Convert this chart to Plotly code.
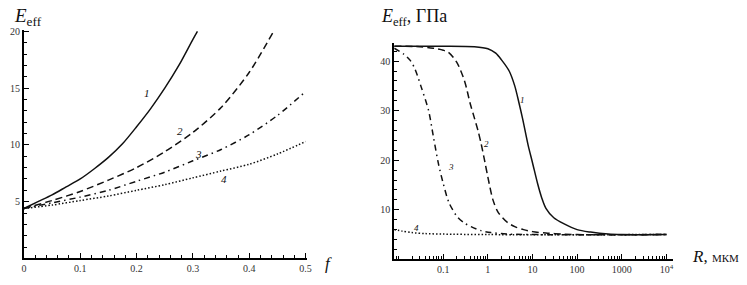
import math
import plotly.graph_objects as go

# ---------- Left panel data: E_eff vs f ----------
f1 = [0.0, 0.025, 0.05, 0.075, 0.1, 0.125, 0.15, 0.175, 0.2, 0.225, 0.25, 0.275, 0.3, 0.308]
e1 = [4.4, 5.0, 5.6, 6.3, 7.0, 7.9, 8.9, 10.1, 11.6, 13.2, 15.0, 17.0, 19.3, 20.0]

f2 = [0.0, 0.05, 0.1, 0.15, 0.2, 0.25, 0.3, 0.35, 0.4, 0.442]
e2 = [4.4, 5.1, 5.9, 6.9, 8.0, 9.4, 11.1, 13.3, 16.4, 19.9]

f3 = [0.0, 0.05, 0.1, 0.15, 0.2, 0.25, 0.3, 0.35, 0.4, 0.45, 0.5]
e3 = [4.4, 4.9, 5.4, 6.0, 6.8, 7.6, 8.6, 9.6, 10.9, 12.6, 14.7]

f4 = [0.0, 0.05, 0.1, 0.15, 0.2, 0.25, 0.3, 0.35, 0.4, 0.45, 0.5]
e4 = [4.4, 4.7, 5.1, 5.5, 6.0, 6.5, 7.1, 7.7, 8.3, 9.2, 10.3]

left_xticks = [0, 0.1, 0.2, 0.3, 0.4, 0.5]
left_xticktext = ["0", "0.1", "0.2", "0.3", "0.4", "0.5"]
left_yticks = [5, 10, 15, 20]

# ---------- Right panel data: E_eff vs R (log) ----------
r1 = [0.008, 0.1, 0.5, 1, 1.5, 2, 3, 4, 5, 6, 8, 10, 13, 16, 20, 30, 50, 100, 200, 500, 1000, 10000]
g1 = [43.0, 43.0, 42.9, 42.5, 41.6, 40.3, 38.0, 35.0, 31.5, 28.4, 23.0, 19.5, 15.3, 12.5, 10.3, 8.4, 7.2, 6.0, 5.5, 5.1, 5.0, 5.0]

r2 = [0.008, 0.03, 0.06, 0.1, 0.13, 0.2, 0.3, 0.4, 0.5, 0.6, 0.7, 0.85, 1.0, 1.3, 1.7, 2.7, 4, 6.3, 10, 20, 50, 100, 10000]
g2 = [43.0, 42.9, 42.6, 42.2, 41.8, 39.8, 36.0, 31.5, 28.5, 26.0, 23.5, 19.8, 16.6, 12.0, 9.5, 7.5, 6.6, 6.0, 5.6, 5.3, 5.1, 5.0, 5.0]

r3 = [0.008, 0.013, 0.018, 0.023, 0.032, 0.047, 0.06, 0.078, 0.1, 0.135, 0.21, 0.3, 0.42, 0.7, 1.17, 3, 10, 10000]
g3 = [42.6, 41.4, 40.2, 38.5, 34.8, 30.0, 24.8, 19.3, 15.3, 11.4, 8.5, 7.3, 6.6, 5.8, 5.4, 5.1, 5.0, 5.0]

r4 = [0.008, 0.012, 0.02, 0.04, 0.1, 1, 10000]
g4 = [6.0, 5.7, 5.4, 5.2, 5.1, 5.0, 5.0]

right_xticks = [0.1, 1, 10, 100, 1000, 10000]
right_xticktext = ["0.1", "1", "10", "100", "1000", "10<sup>4</sup>"]
right_yticks = [10, 20, 30, 40]

SERIF = "Liberation Serif, DejaVu Serif, serif"
INK = "#111"

W, H = 747, 285
M = 10  # margin on every side (px); domains below are converted from page pixels


def dx(px):
    return (px - M) / (W - 2 * M)


def dy(py):
    return (H - py - M) / (H - 2 * M)


fig = go.Figure()

line_styles = [
    dict(color=INK, width=1.5, dash="solid"),
    dict(color=INK, width=1.5, dash="7px,4px"),
    dict(color=INK, width=1.5, dash="6px,4px,1.5px,4px"),
    dict(color=INK, width=1.5, dash="1.5px,2px"),
]

for xs, ys, st in zip([f1, f2, f3, f4], [e1, e2, e3, e4], line_styles):
    fig.add_trace(go.Scatter(x=xs, y=ys, mode="lines", line=dict(shape="spline", smoothing=0.8, **st),
                             xaxis="x", yaxis="y", showlegend=False, hoverinfo="skip"))

for xs, ys, st in zip([r1, r2, r3, r4], [g1, g2, g3, g4], line_styles):
    fig.add_trace(go.Scatter(x=xs, y=ys, mode="lines", line=dict(shape="spline", smoothing=0.8, **st),
                             xaxis="x2", yaxis="y2", showlegend=False, hoverinfo="skip"))

tickfont = dict(family=SERIF, size=10, color="#333")

common = dict(showline=True, linecolor="black", linewidth=2, gridcolor="rgba(0,0,0,0)", zeroline=False,
              ticks="inside", ticklen=5, tickwidth=1, tickcolor="black", tickfont=tickfont)

LX = [dx(16), dx(304)]
LY = [dy(265), dy(27)]
RX = [dx(393), dx(677)]
RY = [dy(266), dy(40)]

fig.update_layout(
    width=W, height=H,
    margin=dict(l=M, r=M, t=M, b=M),
    plot_bgcolor="white",
    xaxis=dict(domain=LX, range=[0, 0.502], tickmode="array",
               tickvals=left_xticks, ticktext=left_xticktext, anchor="y",
               minor=dict(ticks="inside", ticklen=3, tickcolor="black", dtick=0.02, tick0=0), **common),
    yaxis=dict(domain=LY, range=[0, 20.1], tickmode="array",
               tickvals=left_yticks, anchor="x",
               minor=dict(ticks="inside", ticklen=3, tickcolor="black", dtick=1, tick0=0), **common),
    xaxis2=dict(domain=RX, type="log", range=[-2.1, 4.15], tickmode="array",
                tickvals=right_xticks, ticktext=right_xticktext, anchor="y2",
                minor=dict(ticks="inside", ticklen=3, tickcolor="black", dtick="D1"), **common),
    yaxis2=dict(domain=RY, range=[0, 43.7], tickmode="array",
                tickvals=right_yticks, anchor="x2",
                minor=dict(ticks="inside", ticklen=3, tickcolor="black", dtick=2, tick0=0), **common),
)


def lbl(text, x, y, xref, yref, size=11):
    fig.add_annotation(text=f"<i>{text}</i>", x=x, y=y, xref=xref, yref=yref, showarrow=False,
                       font=dict(family=SERIF, size=size, color=INK), xanchor="center", yanchor="middle")


# curve labels (left panel, linear axes)
lbl("1", 0.219, 14.6, "x", "y")
lbl("2", 0.277, 11.2, "x", "y")
lbl("3", 0.31, 9.2, "x", "y")
lbl("4", 0.355, 7.0, "x", "y")

# curve labels (right panel, log x axis -> annotation x in log10 units)
lbl("1", math.log10(6.0), 32.1, "x2", "y2", size=9)
lbl("2", math.log10(0.95), 23.2, "x2", "y2", size=9)
lbl("3", math.log10(0.15), 18.6, "x2", "y2", size=9)
lbl("4", math.log10(0.025), 6.4, "x2", "y2", size=9)


def page_note(text, px, py, size, xanchor="left"):
    fig.add_annotation(text=text, x=dx(px), y=dy(py), xref="paper", yref="paper",
                       showarrow=False, xanchor=xanchor, yanchor="middle",
                       font=dict(family=SERIF, size=size, color=INK))


# axis titles
page_note("<i>E</i><sub>eff</sub>", 4, 13, 19)
page_note("<i>E</i><sub>eff</sub>, ГПа", 378, 14, 18)
page_note("<i>f</i>", 326, 270, 17, xanchor="center")
page_note("<i>R</i>, <span style='font-size:11px'>МКМ</span>", 694, 263, 17)

fig.write_html("out.html", config={"displayModeBar": False},
               post_script="document.body.style.margin='0';document.body.style.overflow='hidden';")
